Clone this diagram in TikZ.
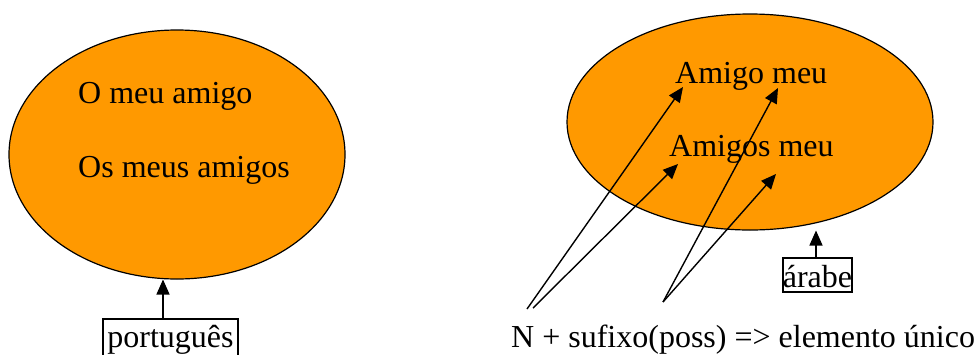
\documentclass[tikz,border=0pt]{standalone}
\usepackage{fontspec}
\setmainfont{Liberation Serif}
\usetikzlibrary{shapes.geometric,arrows.meta}
\definecolor{bubble}{RGB}{255,153,0}
\begin{document}
\begin{tikzpicture}[x=1pt,y=-1pt,
  every node/.style={font=\fontsize{32}{38}\selectfont, inner sep=0pt},
  bubble/.style={ellipse, draw=black, line width=1.2pt, fill=bubble},
  label/.style={anchor=base west},
  langbox/.style={draw=black, line width=1.5pt, anchor=base},
  arr/.style={line width=1.4pt, -{Triangle[length=15pt,width=13pt]}}]
\clip (0,0) rectangle (977,354);
\fill[white] (0,0) rectangle (977,354);
% left ellipse
\node[bubble, minimum width=336pt, minimum height=249pt] (lell) at (177,154.5) {};
\node[label] (l1) at (78,103) {O meu amigo};
\node[label] (l2) at (78,177) {Os meus amigos};
\node[langbox, minimum width=135pt, text height=28pt, text depth=20pt] (pt) at (170.5,347) {português};
\draw[arr] (163,319) -- (163,279.5);
% right ellipse
\node[bubble, minimum width=366pt, minimum height=216pt] (rell) at (750,122) {};
\node[label] (r1) at (675,83) {Amigo meu};
\node[label] (r2) at (669,156) {Amigos meu};
\node[langbox, minimum width=69pt, text height=29pt, text depth=5pt] (ar) at (817.5,287) {árabe};
\draw[arr] (816,257) -- (816,230.5);
% bottom label and arrows
\node[label] (nsuf) at (511,347) {N + sufixo(poss) => elemento único};
\coordinate (s1) at (527,309);
\coordinate (s2) at (533,308);
\coordinate (s3) at (663,302);
\coordinate (t1) at (683,87);
\coordinate (t2) at (678,164);
\coordinate (t3) at (778,88);
\coordinate (t4) at (776,174);
\draw[arr] (s1) -- (t1);
\draw[arr] (s2) -- (t2);
\draw[arr] (s3) -- (t3);
\draw[arr] (s3) -- (t4);
\end{tikzpicture}
\end{document}
